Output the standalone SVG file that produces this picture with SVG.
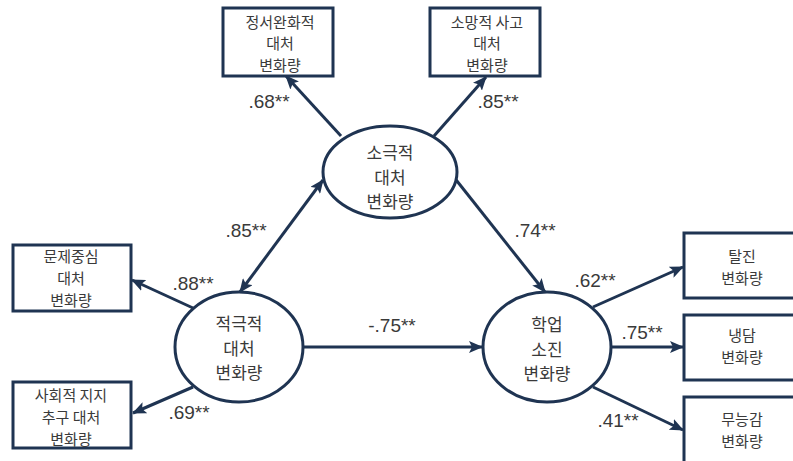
<svg xmlns="http://www.w3.org/2000/svg" width="793" height="461" viewBox="0 0 793 461">
<style>
.box{fill:#fff;stroke:#1f3452;stroke-width:3}
.ell{fill:#fff;stroke:#1f3452;stroke-width:3}
.t{font-family:"Noto Sans CJK KR","Liberation Sans",sans-serif;font-size:15px;fill:#3a3a3a;text-anchor:middle}
.te{font-family:"Noto Sans CJK KR","Liberation Sans",sans-serif;font-size:17px;fill:#3a3a3a;text-anchor:middle}
.lb{font-family:"Liberation Sans","Noto Sans CJK KR",sans-serif;font-size:19px;fill:#3a3a3a;text-anchor:middle}
.c{stroke:#1f3452;stroke-width:3;fill:none}
</style>
<defs>
<marker id="ah" markerUnits="userSpaceOnUse" markerWidth="14" markerHeight="12" viewBox="0 0 14 12" refX="13" refY="6" orient="auto-start-reverse">
<path d="M0,0 L14,6 L0,12 L3,6 Z" fill="#1f3452"/>
</marker>
</defs>
<rect width="793" height="461" fill="#fff"/>
<g id="connectors">
<line class="c" x1="341" y1="136" x2="286" y2="76" marker-end="url(#ah)"/>
<line class="c" x1="434" y1="136" x2="486" y2="77" marker-end="url(#ah)"/>
<line class="c" x1="453" y1="176" x2="545" y2="292" marker-end="url(#ah)"/>
<line class="c" x1="240" y1="292" x2="323" y2="180" marker-start="url(#ah)" marker-end="url(#ah)"/>
<line class="c" x1="193" y1="308" x2="132" y2="280" marker-end="url(#ah)"/>
<line class="c" x1="193" y1="387" x2="133" y2="413" marker-end="url(#ah)"/>
<line class="c" x1="303" y1="347" x2="482" y2="347" marker-end="url(#ah)"/>
<line class="c" x1="593" y1="307" x2="683" y2="267" marker-end="url(#ah)"/>
<line class="c" x1="612" y1="347" x2="683" y2="347" marker-end="url(#ah)"/>
<line class="c" x1="593" y1="387" x2="683" y2="430" marker-end="url(#ah)"/>
</g>
<g id="n_top1">
<rect class="box" x="223" y="8" width="110" height="68"/>
<text class="t" x="280" y="27.5">정서완화적<tspan x="280" dy="21.8">대처</tspan><tspan x="280" dy="21.8">변화량</tspan></text>
</g>
<g id="n_top2">
<rect class="box" x="430" y="8" width="110" height="68"/>
<text class="t" x="487" y="27.5">소망적 사고<tspan x="487" dy="21.8">대처</tspan><tspan x="487" dy="21.8">변화량</tspan></text>
</g>
<g id="n_passive">
<ellipse class="ell" cx="390" cy="172" rx="67" ry="46"/>
<text class="te" x="390" y="158.9">소극적<tspan x="390" dy="24.7">대처</tspan><tspan x="390" dy="24.7">변화량</tspan></text>
</g>
<g id="n_active">
<ellipse class="ell" cx="239" cy="347" rx="64" ry="55"/>
<text class="te" x="239" y="329.9">적극적<tspan x="239" dy="24.7">대처</tspan><tspan x="239" dy="24.7">변화량</tspan></text>
</g>
<g id="n_burnout">
<ellipse class="ell" cx="547" cy="347" rx="64" ry="55"/>
<text class="te" x="547" y="331">학업<tspan x="547" dy="24.7">소진</tspan><tspan x="547" dy="24.7">변화량</tspan></text>
</g>
<g id="n_left1">
<rect class="box" x="13" y="245" width="118" height="66"/>
<text class="t" x="71" y="262">문제중심<tspan x="71" dy="21.8">대처</tspan><tspan x="71" dy="21.8">변화량</tspan></text>
</g>
<g id="n_left2">
<rect class="box" x="13" y="382" width="118" height="66"/>
<text class="t" x="71" y="401">사회적 지지<tspan x="71" dy="21.8">추구 대처</tspan><tspan x="71" dy="21.8">변화량</tspan></text>
</g>
<g id="n_right1">
<rect class="box" x="684" y="233" width="118" height="65"/>
<text class="t" x="742" y="262.4">탈진<tspan x="742" dy="21.8">변화량</tspan></text>
</g>
<g id="n_right2">
<rect class="box" x="684" y="315" width="118" height="65"/>
<text class="t" x="742" y="341.3">냉담<tspan x="742" dy="21.8">변화량</tspan></text>
</g>
<g id="n_right3">
<rect class="box" x="684" y="397" width="118" height="70"/>
<text class="t" x="742" y="425">무능감<tspan x="742" dy="21.8">변화량</tspan></text>
</g>
<g id="labels">
<text class="lb" x="269" y="108">.68**</text>
<text class="lb" x="498" y="108">.85**</text>
<text class="lb" x="246" y="237">.85**</text>
<text class="lb" x="535" y="237">.74**</text>
<text class="lb" x="193" y="290">.88**</text>
<text class="lb" x="189" y="419">.69**</text>
<text class="lb" x="392" y="332">-.75**</text>
<text class="lb" x="595" y="287">.62**</text>
<text class="lb" x="642" y="339">.75**</text>
<text class="lb" x="618" y="427">.41**</text>
</g>
</svg>
